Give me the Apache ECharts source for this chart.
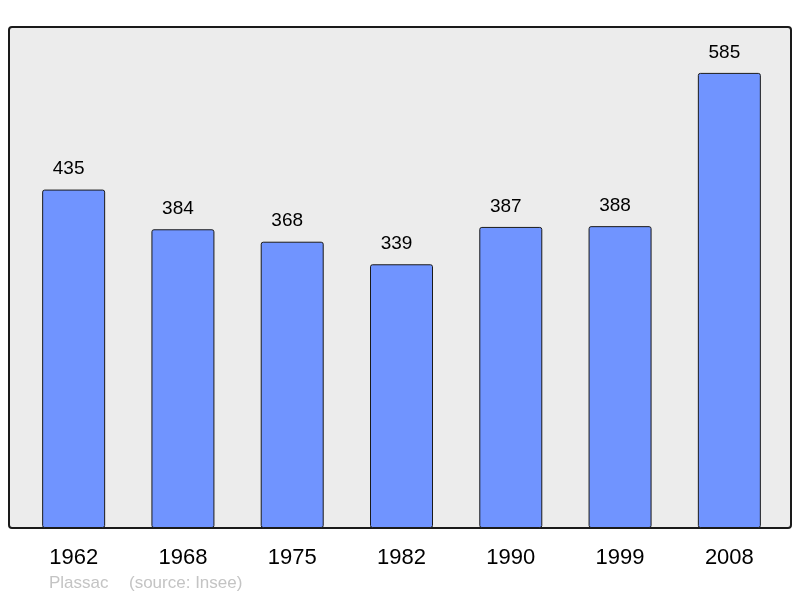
<!DOCTYPE html>
<html lang="fr">
<head>
<meta charset="UTF-8">
<title>Plassac population</title>
<script src="https://cdn.jsdelivr.net/npm/echarts@6/dist/echarts.min.js"></script>
<style>
  html, body { margin: 0; padding: 0; background: #ffffff; }
  #main { width: 800px; height: 598px; }
</style>
</head>
<body>
<div id="main"></div>
<script>
// données
var years = ['1962', '1968', '1975', '1982', '1990', '1999', '2008'];
var population = [435, 384, 368, 339, 387, 388, 585];
var commune = 'Plassac';
var source = '(source: Insee)';

var chart = echarts.init(document.getElementById('main'));

var option = {
    animation: false,
    backgroundColor: '#ffffff',
    // cadre gris derrière les barres
    graphic: [
        {
            type: 'rect',
            z: -10,
            shape: { x: 9, y: 27, width: 782, height: 501, r: 3 },
            style: { fill: '#ececec', stroke: '#1a1a1a', lineWidth: 2 }
        },
        {
            type: 'text',
            left: 49, top: 575,
            style: { text: commune, fill: '#c4c4c4', font: '17px "Liberation Sans", Arial, sans-serif' }
        },
        {
            type: 'text',
            left: 129, top: 575,
            style: { text: source, fill: '#c4c4c4', font: '17px "Liberation Sans", Arial, sans-serif' }
        }
    ],
    grid: { left: 19, right: 16, top: 27, bottom: 70 },
    xAxis: {
        type: 'category',
        data: years,
        axisLine: { show: false },
        axisTick: { show: false },
        axisLabel: {
            color: '#000',
            fontSize: 22,
            margin: 19,
            fontFamily: '"Liberation Sans", Arial, sans-serif'
        }
    },
    yAxis: {
        type: 'value',
        min: 0,
        max: 644,
        show: false,
        splitLine: { show: false }
    },
    series: [{
        type: 'bar',
        data: population,
        barWidth: 63,
        itemStyle: {
            color: '#7094ff',
            borderColor: '#1a1a1a',
            borderWidth: 1,
            borderRadius: 2
        },
        label: {
            show: true,
            position: 'top',
            distance: 11,
            offset: [-5, 0],
            color: '#000',
            fontSize: 19,
            fontFamily: '"Liberation Sans", Arial, sans-serif'
        }
    }]
};

chart.setOption(option);
</script>
</body>
</html>
